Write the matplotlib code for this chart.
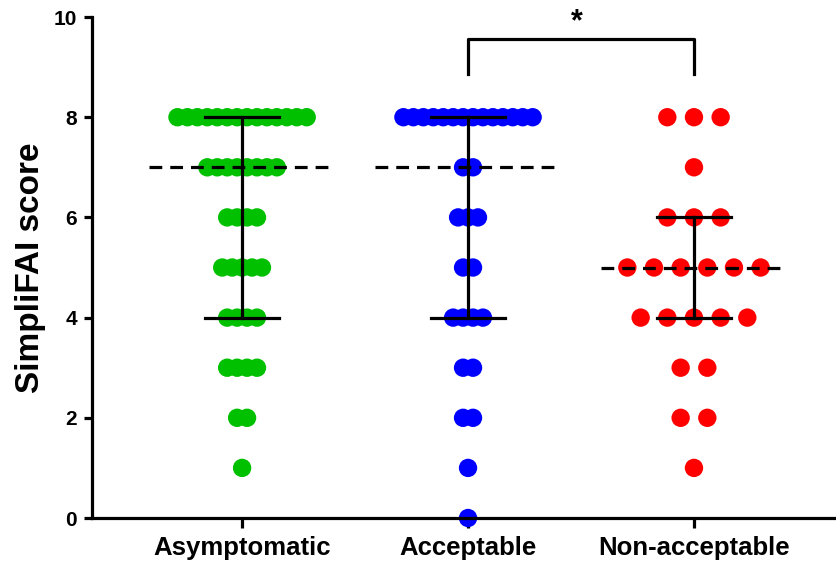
import numpy as np
import matplotlib.pyplot as plt

groups = ["Asymptomatic", "Acceptable", "Non-acceptable"]
colors = ["#00c000", "#0000ff", "#ff0000"]
scores = [0, 1, 2, 3, 4, 5, 6, 7, 8]
# number of patients at each score (0..8)
asym_counts = [0, 1, 2, 4, 4, 5, 4, 8, 14]
accept_counts = [1, 1, 2, 2, 4, 2, 3, 2, 14]
nonacc_counts = [0, 1, 2, 2, 5, 6, 3, 1, 3]
all_counts = [asym_counts, accept_counts, nonacc_counts]
dot_step = [0.044, 0.044, 0.118]  # horizontal spacing of stacked dots


def expand(counts):
    return np.repeat(scores, counts)


fig = plt.figure(figsize=(8.37, 5.67), dpi=100)
ax = fig.add_axes([0.110, 0.0864, 0.890, 0.8836])

for i, counts in enumerate(all_counts):
    xs, ys = [], []
    for s, n in zip(scores, counts):
        off = (np.arange(n) - (n - 1) / 2) * dot_step[i]
        xs.extend(i + off)
        ys.extend([s] * n)
    ax.scatter(xs, ys, s=175, color=colors[i], edgecolors="none", zorder=2, clip_on=False)

    vals = expand(counts)
    med = np.median(vals)
    q1, q3 = np.percentile(vals, [25, 75], method="weibull")
    ax.plot([i - 0.41, i + 0.41], [med, med], color="black", lw=2.3,
            dashes=(4, 2.5), zorder=3)
    ax.plot([i, i], [q1, q3], color="black", lw=2.3, zorder=3)
    for q in (q1, q3):
        ax.plot([i - 0.165, i + 0.165], [q, q], color="black", lw=2.3, zorder=3)

# significance bracket
ax.plot([1, 1, 2, 2], [8.86, 9.56, 9.56, 8.86], color="black", lw=2.3, clip_on=False)
ax.text(1.48, 9.9, "*", ha="center", va="center", fontsize=22, fontweight="bold",
        family=["Liberation Sans", "DejaVu Sans"])

ax.set_xlim(-0.664, 2.633)
ax.set_ylim(0, 10)
ax.set_yticks([0, 2, 4, 6, 8, 10])
ax.set_xticks(range(3))
ax.set_xticklabels(groups)
ax.set_ylabel("SimpliFAI score", fontsize=24, fontweight="bold", labelpad=5)

for sp in ["top", "right"]:
    ax.spines[sp].set_visible(False)
for sp in ["left", "bottom"]:
    ax.spines[sp].set_linewidth(2.3)
ax.tick_params(axis="y", width=2.3, length=6, labelsize=15, pad=5)
ax.tick_params(axis="x", width=2.3, length=7, labelsize=18.5, pad=6)
for lab in ax.get_xticklabels() + ax.get_yticklabels():
    lab.set_fontweight("bold")
    lab.set_family(["Liberation Sans", "DejaVu Sans"])
ax.yaxis.label.set_family(["Liberation Sans", "DejaVu Sans"])

fig.savefig("out.png", dpi=100)
